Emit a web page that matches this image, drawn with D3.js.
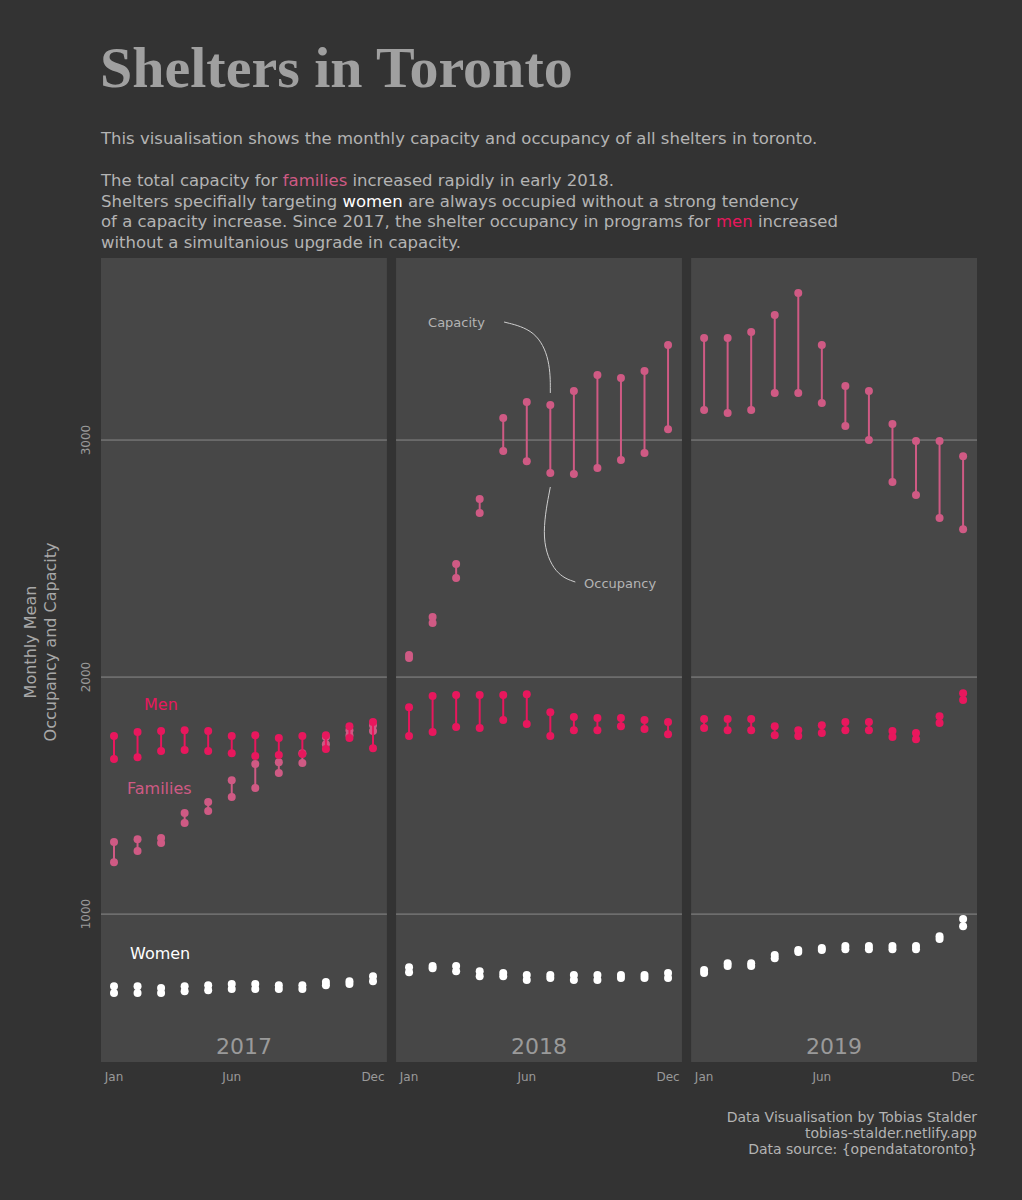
<!DOCTYPE html>
<html><head><meta charset="utf-8">
<script src="https://cdn.jsdelivr.net/npm/d3@7"></script>
<style>body{margin:0;background:#333333;} svg{display:block;}</style>
</head><body><div id="chart"></div>
<script>
const years = ["2017", "2018", "2019"];
const months = ["Jan","Feb","Mar","Apr","May","Jun","Jul","Aug","Sep","Oct","Nov","Dec"];
const monthTicks = ["Jan","Jun","Dec"];

// [capacity, occupancy] per month
const familiesCap = {
  "2017": [1304,1316,1321,1426,1473,1565,1633,1641,1679,1747,1776,1797],
  "2018": [2093,2253,2477,2751,3093,3160,3148,3207,3274,3262,3291,3401],
  "2019": [3430,3430,3456,3527,3620,3401,3228,3207,3068,2996,2996,2932]
};
const familiesOcc = {
  "2017": [1219,1266,1300,1384,1435,1494,1532,1595,1637,1717,1755,1772],
  "2018": [2080,2228,2418,2692,2954,2911,2861,2857,2882,2916,2945,3046],
  "2019": [3127,3114,3127,3198,3198,3156,3059,3000,2823,2768,2671,2624]
};
const menCap = {
  "2017": [1751,1768,1772,1776,1772,1751,1755,1743,1751,1755,1793,1810],
  "2018": [1873,1920,1924,1924,1924,1928,1852,1831,1827,1827,1819,1810],
  "2019": [1823,1823,1823,1793,1776,1797,1810,1810,1772,1764,1835,1932]
};
const menOcc = {
  "2017": [1654,1662,1688,1692,1688,1679,1667,1671,1675,1696,1743,1700],
  "2018": [1751,1768,1789,1785,1819,1802,1751,1776,1776,1793,1781,1759],
  "2019": [1785,1776,1776,1755,1751,1764,1776,1776,1747,1738,1806,1903]
};
const womenCap = {
  "2017": [696,696,688,696,700,705,705,700,700,713,717,738],
  "2018": [776,781,781,759,751,743,743,743,743,743,743,751],
  "2019": [764,793,793,827,848,857,865,865,865,865,907,979]
};
const womenOcc = {
  "2017": [667,667,667,675,679,684,684,684,684,700,705,717],
  "2018": [755,772,759,738,738,722,730,722,722,730,730,730],
  "2019": [751,781,781,814,840,848,852,852,852,852,895,949]
};

const series = [
  {name:"Families", cap:familiesCap, occ:familiesOcc, color:"#cf5a84"},
  {name:"Men", cap:menCap, occ:menOcc, color:"#e8175d"},
  {name:"Women", cap:womenCap, occ:womenOcc, color:"#ffffff"}
];

const W = 1022, H = 1200;
const svg = d3.select("#chart").append("svg").attr("width", W).attr("height", H);
const font = "'DejaVu Sans', Verdana, sans-serif";

svg.append("text").attr("x", 100).attr("y", 87).text("Shelters in Toronto")
  .attr("font-family", "'Liberation Serif', serif").attr("font-weight", "bold")
  .attr("font-size", 58).attr("fill", "#a0a0a0");

const sub = svg.append("g").attr("font-family", font).attr("font-size", 16.5).attr("fill", "#b4b4b4");
function line(yy, parts) {
  const t = sub.append("text").attr("x", 101).attr("y", yy);
  parts.forEach(p => t.append("tspan").text(p[0]).attr("fill", p[1] || null));
}
line(144, [["This visualisation shows the monthly capacity and occupancy of all shelters in toronto."]]);
line(186, [["The total capacity for "], ["families", "#cf5a84"], [" increased rapidly in early 2018."]]);
line(207, [["Shelters specifially targeting "], ["women", "#ffffff"], [" are always occupied without a strong tendency"]]);
line(227, [["of a capacity increase. Since 2017, the shelter occupancy in programs for "], ["men", "#e8175d"], [" increased"]]);
line(248, [["without a simultanious upgrade in capacity."]]);

const plotTop = 258, plotBottom = 1062;
const panelX = d3.scaleBand().domain(years).range([101, 977]).paddingInner(0.031);
const y = d3.scaleLinear().domain([376, 3768]).range([plotBottom, plotTop]);
const x = d3.scalePoint().domain(months).range([13, 272]);

years.forEach(yr => {
  const g = svg.append("g").attr("transform", `translate(${panelX(yr)},0)`);
  const w = panelX.bandwidth();
  g.append("rect").attr("x", 0).attr("y", plotTop).attr("width", w).attr("height", plotBottom - plotTop).attr("fill", "#474747");
  [1000, 2000, 3000].forEach(v => g.append("line").attr("x1", 0).attr("x2", w)
    .attr("y1", y(v)).attr("y2", y(v)).attr("stroke", "#8a8a8a").attr("stroke-width", 1));
  g.append("text").attr("x", w / 2).attr("y", 1054).attr("text-anchor", "middle")
    .attr("font-family", font).attr("font-size", 22).attr("fill", "#9a9a9a").text(yr);
  monthTicks.forEach(m => g.append("text").attr("x", x(m)).attr("y", 1081).attr("text-anchor", "middle")
    .attr("font-family", font).attr("font-size", 12).attr("fill", "#9a9a9a").text(m));

  series.forEach(s => {
    const d = months.map((m, i) => ({m, c: s.cap[yr][i], o: s.occ[yr][i]}));
    g.selectAll(null).data(d).enter().append("line")
      .attr("x1", p => x(p.m)).attr("x2", p => x(p.m))
      .attr("y1", p => y(p.c)).attr("y2", p => y(p.o))
      .attr("stroke", s.color).attr("stroke-width", 2);
    ["c", "o"].forEach(k => g.selectAll(null).data(d).enter().append("circle")
      .attr("cx", p => x(p.m)).attr("cy", p => y(p[k])).attr("r", 4).attr("fill", s.color));
  });

  if (yr === "2017") {
    const lab = [["Men", 144, 1860, "#e8175d"], ["Families", 127, 1508, "#cf5a84"], ["Women", 130, 810, "#ffffff"]];
    lab.forEach(l => g.append("text").attr("x", l[1] - panelX(yr)).attr("y", y(l[2]))
      .attr("font-family", font).attr("font-size", 16).attr("fill", l[3]).text(l[0]));
  }
  if (yr === "2018") {
    const px = x("Jul"), cy = y(familiesCap["2018"][6]), oy = y(familiesOcc["2018"][6]);
    const curve = d3.line().curve(d3.curveBasis);
    g.append("path").attr("d", curve([[108, 322], [140, 330], [px, 360], [px, cy - 12]]))
      .attr("fill", "none").attr("stroke", "#cfcfcf").attr("stroke-width", 1);
    g.append("path").attr("d", curve([[px, oy + 14], [px - 10, 540], [px + 5, 575], [px + 25, 582]]))
      .attr("fill", "none").attr("stroke", "#cfcfcf").attr("stroke-width", 1);
    g.append("text").attr("x", 32).attr("y", 327).attr("font-family", font).attr("font-size", 13)
      .attr("fill", "#b4b4b4").text("Capacity");
    g.append("text").attr("x", 188).attr("y", 588).attr("font-family", font).attr("font-size", 13)
      .attr("fill", "#b4b4b4").text("Occupancy");
  }
});

[1000, 2000, 3000].forEach(v => svg.append("text")
  .attr("transform", `translate(90,${y(v)}) rotate(-90)`).attr("text-anchor", "middle")
  .attr("font-family", font).attr("font-size", 12).attr("fill", "#9a9a9a").text(v));

const yt = svg.append("text").attr("transform", "translate(36,642) rotate(-90)").attr("text-anchor", "middle")
  .attr("font-family", font).attr("font-size", 16).attr("fill", "#a8a8a8");
yt.append("tspan").attr("x", 0).attr("dy", 0).text("Monthly Mean");
yt.append("tspan").attr("x", 0).attr("dy", 20).text("Occupancy and Capacity");

const cap = svg.append("g").attr("font-family", font).attr("font-size", 14).attr("fill", "#b4b4b4").attr("text-anchor", "end");
["Data Visualisation by Tobias Stalder", "tobias-stalder.netlify.app", "Data source: {opendatatoronto}"]
  .forEach((t, i) => cap.append("text").attr("x", 977).attr("y", 1122 + i * 16).text(t));
</script></body></html>
